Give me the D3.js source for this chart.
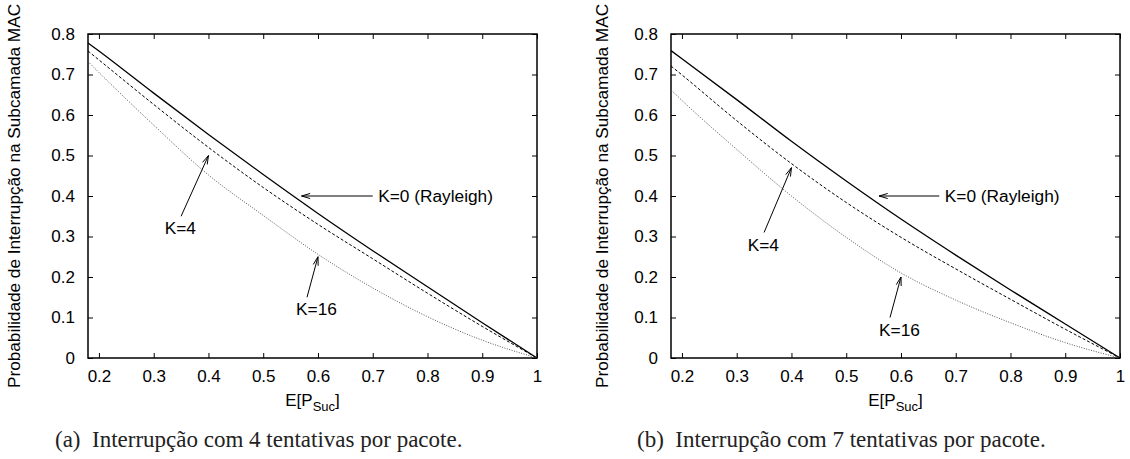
<!DOCTYPE html>
<html>
<head>
<meta charset="utf-8">
<script src="https://cdn.jsdelivr.net/npm/d3@7"></script>
<style>
  body { margin: 0; background: #fff; }
  .plot text { font-family: "Liberation Sans", Arial, sans-serif; fill: #000; }
  .caption { font-family: "Liberation Serif", "Times New Roman", serif; fill: #222; }
</style>
</head>
<body>
<div id="chart-container"></div>
<script>
// E[P_Suc] sample points shared by every curve
const xValues = [0.18, 0.2, 0.3, 0.4, 0.5, 0.6, 0.7, 0.8, 0.9, 1.0];

// (a) 4 tentativas por pacote
const a_k0  = [0.778, 0.758, 0.654, 0.552, 0.453, 0.357, 0.265, 0.176, 0.087, 0];
const a_k4  = [0.758, 0.736, 0.626, 0.520, 0.421, 0.330, 0.245, 0.160, 0.078, 0];
const a_k16 = [0.732, 0.705, 0.575, 0.452, 0.352, 0.256, 0.173, 0.102, 0.044, 0];

// (b) 7 tentativas por pacote
const b_k0  = [0.759, 0.739, 0.638, 0.535, 0.437, 0.343, 0.254, 0.168, 0.084, 0];
const b_k4  = [0.721, 0.699, 0.586, 0.480, 0.384, 0.298, 0.220, 0.145, 0.071, 0];
const b_k16 = [0.662, 0.636, 0.515, 0.400, 0.298, 0.210, 0.143, 0.087, 0.038, 0];

const xTicks = [0.2, 0.3, 0.4, 0.5, 0.6, 0.7, 0.8, 0.9, 1];
const xTickLabels = ["0.2", "0.3", "0.4", "0.5", "0.6", "0.7", "0.8", "0.9", "1"];
const yTicks = [0, 0.1, 0.2, 0.3, 0.4, 0.5, 0.6, 0.7, 0.8];
const yTickLabels = ["0", "0.1", "0.2", "0.3", "0.4", "0.5", "0.6", "0.7", "0.8"];

const captions = ["(a)\u2002Interrupção com 4 tentativas por pacote.",
                  "(b)\u2002Interrupção com 7 tentativas por pacote."];
const yTitle = "Probabilidade de Interrupção na Subcamada MAC";

// arrows + labels, in data coordinates
const notesA = [
  { text: "K=0 (Rayleigh)", from: [0.70, 0.40], to: [0.57, 0.40], at: [0.71, 0.40] },
  { text: "K=4",  from: [0.35, 0.35], to: [0.40, 0.50], at: [0.32, 0.32] },
  { text: "K=16", from: [0.58, 0.15], to: [0.60, 0.25], at: [0.56, 0.12] }
];
const notesB = [
  { text: "K=0 (Rayleigh)", from: [0.67, 0.40], to: [0.56, 0.40], at: [0.68, 0.40] },
  { text: "K=4",  from: [0.35, 0.31], to: [0.40, 0.47], at: [0.32, 0.28] },
  { text: "K=16", from: [0.58, 0.10], to: [0.60, 0.20], at: [0.56, 0.07] }
];

const width = 1130;
const height = 459;

const svg = d3.select("#chart-container")
    .append("svg")
    .attr("width", width)
    .attr("height", height);

const panels = [
    { left: 88,  series: [a_k0, a_k4, a_k16], notes: notesA, caption: captions[0], titleX: 19.5, capX: 55 },
    { left: 671, series: [b_k0, b_k4, b_k16], notes: notesB, caption: captions[1], titleX: 608, capX: 637 }
];

const plotW = 449, plotTop = 34, plotBottom = 358;

// solid, dashed, dotted like gnuplot's default monochrome set
const styles = [
    { dash: null,    color: "#000", w: 1.3 },
    { dash: "3,2",   color: "#000", w: 1 },
    { dash: "1,1.5", color: "#555", w: 1 }
];

panels.forEach(p => {
    const g = svg.append("g").attr("class", "plot");

    const x = d3.scaleLinear().domain([0.18, 1]).range([p.left, p.left + plotW]);
    const y = d3.scaleLinear().domain([0, 0.8]).range([plotBottom, plotTop]);

    // inward ticks on all four sides
    g.append("g")
        .attr("transform", `translate(0,${plotBottom})`)
        .call(d3.axisBottom(x).tickValues(xTicks).tickSize(-5).tickPadding(12)
            .tickFormat((d, i) => xTickLabels[i]))
        .call(a => a.select(".domain").remove());
    g.append("g")
        .attr("transform", `translate(0,${plotTop})`)
        .call(d3.axisTop(x).tickValues(xTicks).tickSize(-5).tickFormat(""))
        .call(a => a.select(".domain").remove());
    g.append("g")
        .attr("transform", `translate(${p.left},0)`)
        .call(d3.axisLeft(y).tickValues(yTicks).tickSize(-5).tickPadding(13)
            .tickFormat((d, i) => yTickLabels[i]))
        .call(a => a.select(".domain").remove());
    g.append("g")
        .attr("transform", `translate(${p.left + plotW},0)`)
        .call(d3.axisRight(y).tickValues(yTicks).tickSize(-5).tickFormat(""))
        .call(a => a.select(".domain").remove());

    g.selectAll(".tick line").attr("stroke", "#000").attr("stroke-width", 1);
    g.selectAll(".tick text").attr("font-size", 17).attr("font-family", "Liberation Sans, Arial, sans-serif");

    g.append("rect")
        .attr("x", p.left).attr("y", plotTop)
        .attr("width", plotW).attr("height", plotBottom - plotTop)
        .attr("fill", "none").attr("stroke", "#000").attr("stroke-width", 1.5);

    const line = d3.line()
        .x((d, i) => x(xValues[i]))
        .y(d => y(d))
        .curve(d3.curveMonotoneX);

    p.series.forEach((s, i) => {
        g.append("path")
            .datum(s)
            .attr("d", line)
            .attr("fill", "none")
            .attr("stroke", styles[i].color)
            .attr("stroke-width", styles[i].w)
            .attr("stroke-dasharray", styles[i].dash);
    });

    // annotation arrows with open heads
    p.notes.forEach(n => {
        const x1 = x(n.from[0]), y1 = y(n.from[1]);
        const x2 = x(n.to[0]),   y2 = y(n.to[1]);
        const ang = Math.atan2(y2 - y1, x2 - x1);
        const len = 9, spread = Math.PI / 11;
        g.append("line")
            .attr("x1", x1).attr("y1", y1).attr("x2", x2).attr("y2", y2)
            .attr("stroke", "#000").attr("stroke-width", 1);
        g.append("path")
            .attr("d", `M${x2 - len * Math.cos(ang - spread)},${y2 - len * Math.sin(ang - spread)}` +
                       `L${x2},${y2}` +
                       `L${x2 - len * Math.cos(ang + spread)},${y2 - len * Math.sin(ang + spread)}`)
            .attr("fill", "none").attr("stroke", "#000").attr("stroke-width", 1);
        g.append("text")
            .attr("x", x(n.at[0])).attr("y", y(n.at[1]))
            .attr("dy", "0.35em")
            .attr("font-size", 17.3)
            .text(n.text);
    });

    // axis titles
    const xt = g.append("text")
        .attr("x", p.left + plotW / 2).attr("y", 406)
        .attr("text-anchor", "middle")
        .attr("font-size", 17);
    xt.append("tspan").text("E[P");
    xt.append("tspan").attr("font-size", 13).attr("dy", 5).text("Suc");
    xt.append("tspan").attr("dy", -5).text("]");

    g.append("text")
        .attr("transform", `translate(${p.titleX},196) rotate(-90)`)
        .attr("text-anchor", "middle")
        .attr("font-size", 17.2)
        .text(yTitle);

    svg.append("text")
        .attr("class", "caption")
        .attr("x", p.capX).attr("y", 447)
        .attr("font-size", 23)
        .text(p.caption);
});
</script>
</body>
</html>
